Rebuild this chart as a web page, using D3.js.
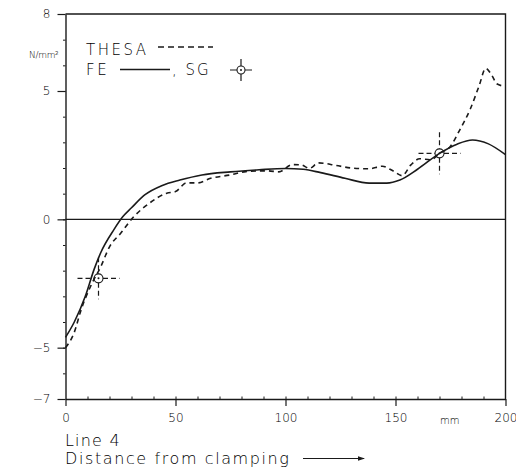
<!DOCTYPE html>
<html>
<head>
<meta charset="utf-8">
<script src="https://cdn.jsdelivr.net/npm/d3@7"></script>
<style>
  html, body { margin: 0; padding: 0; background: #fff; }
  svg { display: block; }
  text { font-family: "DejaVu Sans", "Liberation Sans", sans-serif; font-weight: 200; fill: #000; }
</style>
</head>
<body>
<svg id="chart" width="516" height="476"></svg>
<script>
// Stress along line 4 versus distance from the clamping (mm, N/mm²)

// FE calculation (solid line)
const feX = [0, 4, 9, 13, 16, 22, 26, 30, 36, 44, 52, 62, 75, 88, 100, 108, 116, 127, 138, 146, 152, 160, 170, 178, 185, 192, 200];
const feY = [-4.6, -4.0, -3.0, -1.95, -1.3, -0.4, 0.1, 0.45, 0.95, 1.32, 1.53, 1.73, 1.85, 1.93, 1.98, 1.95, 1.82, 1.6, 1.41, 1.41, 1.53, 1.95, 2.57, 2.93, 3.09, 2.95, 2.52];

// THESA calculation (dashed line)
const thesaX = [0, 4, 7, 12, 16, 20, 25, 31, 38, 46, 50, 55, 60, 66, 75, 82, 92, 97, 103, 107, 111, 115, 123, 130, 138, 144, 149, 153, 157, 161, 166, 170, 175, 179, 184, 188, 191, 194, 196, 200];
const thesaY = [-5.0, -4.4, -3.55, -2.5, -1.85, -1.07, -0.55, 0.1, 0.62, 1.02, 1.08, 1.42, 1.42, 1.6, 1.73, 1.86, 1.89, 1.85, 2.13, 2.12, 1.99, 2.2, 2.1, 2.0, 1.97, 2.07, 1.88, 1.7, 2.12, 2.36, 2.32, 2.57, 2.85, 3.45, 4.3, 5.2, 5.88, 5.58, 5.28, 5.18];

// Strain gauge measurements
const sgX = [15, 170];
const sgY = [-2.3, 2.57];

// Axis ticks
const xTicks = [0, 50, 100, 150, 200];
const yTicks = [8, 5, 0, -5, -7];

const svg = d3.select("#chart");
const ink = "#1a1a1a";

const x = d3.scaleLinear().domain([0, 200]).range([65.5, 505.5]);
const y = d3.scaleLinear().domain([-7, 8]).range([399, 14]);

const fe = feX.map((d, i) => [d, feY[i]]);
const thesa = thesaX.map((d, i) => [d, thesaY[i]]);
const sg = sgX.map((d, i) => [d, sgY[i]]);

// frame: top and right borders
svg.append("path")
  .attr("d", `M${x(0)},${y(8)}H${x(200)}V${y(-7)}`)
  .attr("fill", "none").attr("stroke", ink).attr("stroke-width", 1.4);

// zero line
svg.append("line")
  .attr("x1", x(0)).attr("x2", x(200))
  .attr("y1", y(0)).attr("y2", y(0))
  .attr("stroke", ink).attr("stroke-width", 1.4);

// y axis
const yAxis = svg.append("g").attr("transform", `translate(${x(0)},0)`)
  .call(d3.axisLeft(y).tickValues(yTicks).tickSize(8).tickSizeOuter(0)
    .tickFormat(d => d < 0 ? "\u2212" + Math.abs(d) : d));
yAxis.select(".domain").attr("stroke", ink).attr("stroke-width", 1.4);
yAxis.selectAll(".tick line").attr("stroke", ink).attr("stroke-width", 1.2);
yAxis.selectAll(".tick text").attr("font-size", 12).attr("dx", "-4")
  .style("font-family", "DejaVu Sans, sans-serif").style("font-weight", 200).attr("fill", "#000");

svg.append("g").attr("transform", `translate(${x(0)},0)`)
  .call(d3.axisLeft(y).tickValues(d3.range(-6, 8)).tickSize(2.5).tickFormat(""))
  .call(g => g.select(".domain").remove())
  .selectAll("line").attr("stroke", ink);

// x axis
const xAxis = svg.append("g").attr("transform", `translate(0,${y(-7)})`)
  .call(d3.axisBottom(x).tickValues(xTicks).tickSize(7).tickSizeOuter(0));
xAxis.select(".domain").attr("stroke", ink).attr("stroke-width", 1.4);
xAxis.selectAll(".tick line").attr("stroke", ink).attr("stroke-width", 1.2);
xAxis.selectAll(".tick text").attr("font-size", 12).attr("dy", "1.1em")
  .style("font-family", "DejaVu Sans, sans-serif").style("font-weight", 200).attr("fill", "#000");

svg.append("g").attr("transform", `translate(0,${y(-7)})`)
  .call(d3.axisBottom(x).tickValues(d3.range(10, 200, 10)).tickSize(-2.5).tickFormat(""))
  .call(g => g.select(".domain").remove())
  .selectAll("line").attr("stroke", ink);

// unit labels
svg.append("text").attr("x", 29).attr("y", 58).attr("font-size", 9)
  .attr("letter-spacing", -0.3).text("N/mm²");

svg.append("text").attr("x", 440).attr("y", 424).attr("font-size", 10).text("mm");

// curves
const line = d3.line().x(d => x(d[0])).y(d => y(d[1])).curve(d3.curveMonotoneX);

svg.append("path").datum(fe).attr("d", line)
  .attr("fill", "none").attr("stroke", ink).attr("stroke-width", 1.6);

svg.append("path").datum(thesa).attr("d", line)
  .attr("fill", "none").attr("stroke", ink).attr("stroke-width", 1.6)
  .attr("stroke-dasharray", "5,4");

// strain gauge marker: small circle with a dashed cross
function gaugeMark(g, cx, cy, arm, r) {
  g.append("circle").attr("cx", cx).attr("cy", cy).attr("r", r)
    .attr("fill", "none").attr("stroke", ink).attr("stroke-width", 1.1);
  g.append("path")
    .attr("d", `M${cx - arm},${cy}H${cx - r}M${cx + r},${cy}H${cx + arm}` +
               `M${cx},${cy - arm}V${cy - r}M${cx},${cy + r}V${cy + arm}`)
    .attr("stroke", ink).attr("stroke-width", 1.2)
    .attr("stroke-dasharray", arm > 12 ? "5,3" : null);
  g.append("circle").attr("cx", cx).attr("cy", cy).attr("r", 1)
    .attr("fill", ink);
}

sg.forEach(d => gaugeMark(svg, x(d[0]), y(d[1]), 21, 4.5));

// legend
const lg = svg.append("g");
lg.append("text").attr("x", 86).attr("y", 55).attr("font-size", 15)
  .attr("letter-spacing", 2.5).text("THESA");
lg.append("line").attr("x1", 158).attr("x2", 213).attr("y1", 47).attr("y2", 47)
  .attr("stroke", ink).attr("stroke-width", 1.4).attr("stroke-dasharray", "6,4");
lg.append("text").attr("x", 86).attr("y", 75).attr("font-size", 15)
  .attr("letter-spacing", 2.5).text("FE");
lg.append("line").attr("x1", 120).attr("x2", 170).attr("y1", 69.5).attr("y2", 69.5)
  .attr("stroke", ink).attr("stroke-width", 1.4);
lg.append("text").attr("x", 172).attr("y", 75).attr("font-size", 15)
  .attr("letter-spacing", 2).text(",  SG");
gaugeMark(lg, 241, 70, 11, 4);

// bottom captions
svg.append("text").attr("x", 65).attr("y", 446).attr("font-size", 16)
  .attr("letter-spacing", 1.2).text("Line 4");
svg.append("text").attr("x", 65).attr("y", 464).attr("font-size", 16)
  .attr("letter-spacing", 1.6).text("Distance from clamping");

// arrow after the caption
svg.append("path").attr("d", "M303,458.5H364")
  .attr("stroke", ink).attr("stroke-width", 1.2);
svg.append("path").attr("d", "M358,456.3L365,458.5L358,460.7Z").attr("fill", ink);
</script>
</body>
</html>
